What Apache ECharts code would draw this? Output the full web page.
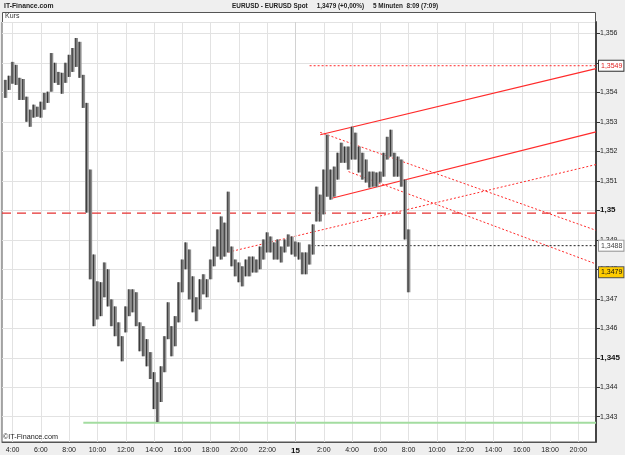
<!DOCTYPE html>
<html>
<head>
<meta charset="utf-8">
<script src="https://cdn.jsdelivr.net/npm/echarts@6/dist/echarts.min.js"></script>
<style>
  html, body { margin: 0; padding: 0; background: #efefef; }
  #chart { width: 625px; height: 455px; }
</style>
</head>
<body>
<div id="chart"></div>
<script>
// EURUSD spot, 15-minute ranges
const barStart = '14 03:30';

const highs = [
  1.35442, 1.35456, 1.35503, 1.35493, 1.35449, 1.35445, 1.35385, 1.35341, 1.35358, 1.35351,
  1.35368, 1.35398, 1.35402, 1.35533, 1.35500, 1.35469, 1.35466, 1.35500, 1.35527, 1.35550,
  1.35584, 1.35571, 1.35459, 1.35364, 1.35138, 1.34850, 1.34759, 1.34756, 1.34823, 1.34800,
  1.34698, 1.34674, 1.34620, 1.34573, 1.34674, 1.34732, 1.34732, 1.34722, 1.34620, 1.34607,
  1.34563, 1.34519, 1.34451, 1.34417, 1.34471, 1.34573, 1.34688, 1.34607, 1.34641, 1.34756,
  1.34833, 1.34891, 1.34867, 1.34776, 1.34705, 1.34766, 1.34783, 1.34766, 1.34833, 1.34877,
  1.34935, 1.34979, 1.34958, 1.35063, 1.34877, 1.34833, 1.34823, 1.34810, 1.34833, 1.34843,
  1.34843, 1.34833, 1.34877, 1.34901, 1.34925, 1.34911, 1.34891, 1.34901, 1.34877, 1.34901,
  1.34918, 1.34911, 1.34894, 1.34891, 1.34857, 1.34857, 1.34884, 1.34952, 1.35080, 1.35053,
  1.35138, 1.35256, 1.35138, 1.35148, 1.35195, 1.35229, 1.35216, 1.35216, 1.35283, 1.35263,
  1.35216, 1.35195, 1.35172, 1.35131, 1.35131, 1.35128, 1.35131, 1.35195, 1.35249, 1.35273,
  1.35195, 1.35182, 1.35172, 1.35104, 1.34935
];

const lows = [
  1.35381, 1.35408, 1.35429, 1.35425, 1.35374, 1.35374, 1.35300, 1.35283, 1.35314, 1.35317,
  1.35314, 1.35341, 1.35364, 1.35402, 1.35432, 1.35425, 1.35395, 1.35432, 1.35452, 1.35469,
  1.35486, 1.35449, 1.35347, 1.34992, 1.34766, 1.34607, 1.34630, 1.34641, 1.34705, 1.34674,
  1.34607, 1.34573, 1.34539, 1.34488, 1.34586, 1.34641, 1.34654, 1.34607, 1.34522, 1.34505,
  1.34471, 1.34428, 1.34326, 1.34282, 1.34350, 1.34451, 1.34563, 1.34505, 1.34539, 1.34620,
  1.34722, 1.34800, 1.34698, 1.34654, 1.34624, 1.34664, 1.34715, 1.34705, 1.34766, 1.34810,
  1.34843, 1.34833, 1.34843, 1.34857, 1.34810, 1.34776, 1.34756, 1.34742, 1.34776, 1.34776,
  1.34789, 1.34789, 1.34800, 1.34833, 1.34857, 1.34857, 1.34833, 1.34833, 1.34823, 1.34857,
  1.34877, 1.34850, 1.34843, 1.34833, 1.34783, 1.34783, 1.34816, 1.34850, 1.34962, 1.34962,
  1.34986, 1.35046, 1.35036, 1.35046, 1.35104, 1.35161, 1.35161, 1.35138, 1.35172, 1.35172,
  1.35128, 1.35104, 1.35094, 1.35077, 1.35080, 1.35080, 1.35094, 1.35114, 1.35172, 1.35182,
  1.35114, 1.35114, 1.35080, 1.34901, 1.34722
];

// drawn trend lines: [slot, price] end points
const upperChannel = [['15 01:45', 1.35256], ['15 21:15', 1.35480]];
const lowerChannel = [['15 02:30', 1.35040], ['15 21:15', 1.35266]];
const risingDotted = [['14 19:15', 1.34858], ['15 21:15', 1.35155]];
const fallingDottedA = [['15 01:45', 1.35264], ['15 21:15', 1.34932]];
const fallingDottedB = [['15 03:45', 1.35131], ['15 21:15', 1.34818]];

// horizontal levels
const resistance = [['15 01:00', 1.3549], ['15 21:15', 1.3549]];
const pivot = [['15 01:00', 1.3488], ['15 21:15', 1.3488]];
const midLevel = [['14 03:15', 1.3499], ['15 21:15', 1.3499]];
const support = [['14 09:00', 1.3428], ['15 21:15', 1.3428]];
const lastPrice = [['15 08:00', 1.3479], ['15 21:15', 1.3479]];
const dayBreak = '15 00:00';

// time slots of the axis, 15 minutes apart
const slots = [];
for (let m = 195; m <= 2715; m += 15) {
  const d = m < 1440 ? 14 : 15;
  const mm = m % 1440;
  slots.push(d + ' ' + String(Math.floor(mm / 60)).padStart(2, '0') + ':' + String(mm % 60).padStart(2, '0'));
}

const startIdx = slots.indexOf(barStart);
const bars = highs.map((h, i) => [startIdx + i, lows[i], h]);

const isLabelSlot = (idx, val) => {
  const hh = +val.slice(3, 5), mm = +val.slice(6, 8);
  return mm === 0 && hh % 2 === 0;
};

const chart = echarts.init(document.getElementById('chart'));
const red = '#ff2b2b';
const font = 'Liberation Sans';

const levelLine = (name, data, color, type, width) => ({
  name, type: 'line', data, symbol: 'none', silent: true,
  lineStyle: { color, type, width }, z: 4
});

const boxLabel = (text, color, bg, border) => ({
  show: true, formatter: text, color, backgroundColor: bg,
  borderColor: border, borderWidth: 1, padding: [2, 1, 1, 2],
  fontSize: 7, fontFamily: font, distance: 3
});

chart.setOption({
  animation: false,
  backgroundColor: '#efefef',
  textStyle: { fontFamily: font },
  grid: {
    left: 2, right: 29, top: 22, bottom: 12,
    show: true, backgroundColor: '#fff', borderColor: '#555', borderWidth: 1
  },
  graphic: [
    { type: 'rect', shape: { x: 2, y: 12, width: 594, height: 10 }, style: { fill: '#fff' }, z: 1 },
    { type: 'polyline', shape: { points: [[2.5, 22], [2.5, 12.5], [595.5, 12.5], [595.5, 22]] }, style: { stroke: '#555', lineWidth: 1, fill: null }, z: 1 },
    { type: 'text', x: 4, y: 2, scaleX: 0.85, style: { text: 'IT-Finance.com', fontSize: 8, fontWeight: 'bold', fontFamily: font, fill: '#222' } },
    { type: 'text', x: 232, y: 2, scaleX: 0.8, style: { text: 'EURUSD - EURUSD Spot     1,3479 (+0,00%)     5 Minuten  8:09 (7:09)', fontSize: 8, fontWeight: 'bold', fontFamily: font, fill: '#222' } },
    { type: 'text', x: 5, y: 13, style: { text: 'Kurs', fontSize: 7, fontFamily: font, fill: '#333' }, z: 2 },
    { type: 'text', x: 3, y: 433, scaleX: 0.9, style: { text: '©IT-Finance.com', fontSize: 8, fontFamily: font, fill: '#222' }, z: 10 }
  ],
  xAxis: {
    type: 'category',
    data: slots,
    boundaryGap: false,
    axisLine: { lineStyle: { color: '#555' } },
    axisTick: { show: false },
    axisLabel: {
      interval: isLabelSlot,
      margin: 5,
      fontSize: 7,
      color: '#222',
      formatter: v => {
        const hh = +v.slice(3, 5);
        return hh === 0 ? '{b|' + v.slice(0, 2) + '}' : hh + ':00';
      },
      rich: { b: { fontWeight: 'bold', fontSize: 8, color: '#111' } }
    },
    splitLine: { show: true, interval: isLabelSlot, lineStyle: { color: '#e2e2e2' } }
  },
  yAxis: {
    type: 'value',
    position: 'right',
    min: 1.342144,
    max: 1.356382,
    minInterval: 0.001,
    maxInterval: 0.001,
    splitNumber: 14,
    axisLine: { show: true, lineStyle: { color: '#444', width: 2 } },
    axisTick: { show: true, length: 4, lineStyle: { color: '#333' } },
    axisLabel: {
      showMinLabel: false,
      showMaxLabel: false,
      margin: 4,
      fontSize: 7,
      color: '#222',
      formatter: v => {
        const r = Math.round(v * 1000);
        if (r === 1350) return '{b|1,35}';
        if (r === 1345) return '{b|1,345}';
        return (r / 1000).toFixed(3).replace('.', ',');
      },
      rich: { b: { fontWeight: 'bold', fontSize: 8, color: '#111' } }
    },
    splitLine: { show: true, lineStyle: { color: '#e2e2e2' } }
  },
  series: [
    {
      name: 'EURUSD',
      type: 'custom',
      data: bars,
      z: 5,
      renderItem: (params, api) => {
        const top = api.coord([api.value(0), api.value(2)]);
        const bot = api.coord([api.value(0), api.value(1)]);
        const w = api.size([1, 0])[0];
        return {
          type: 'group',
          children: [
            { type: 'rect', shape: { x: top[0] - w / 2, y: top[1], width: w, height: Math.max(1, bot[1] - top[1]) }, style: { fill: '#8e8e8e' } },
            { type: 'line', shape: { x1: top[0] - 0.5, y1: top[1], x2: top[0] - 0.5, y2: bot[1] }, style: { stroke: '#333', lineWidth: 1 } }
          ]
        };
      }
    },
    Object.assign(levelLine('mid', midLevel, '#e53030', [9, 6], 1.2), {
      markLine: {
        symbol: 'none', silent: true, label: { show: false },
        lineStyle: { color: '#d2d2d2', width: 1, type: 'solid' },
        data: [{ xAxis: dayBreak }]
      }
    }),
    levelLine('support', support, '#a3dca0', 'solid', 2),
    Object.assign(levelLine('resistance', resistance, red, [2, 2], 1), {
      endLabel: boxLabel('1,3549', '#e02020', '#fff', '#333')
    }),
    Object.assign(levelLine('pivot', pivot, '#222', [2, 2], 1), {
      endLabel: boxLabel('1,3488', '#444', '#fff', '#999')
    }),
    Object.assign(levelLine('last', lastPrice, 'rgba(0,0,0,0)', 'solid', 0), {
      endLabel: boxLabel('1,3479', '#111', '#ffcc00', '#555')
    }),
    levelLine('upper', upperChannel, red, 'solid', 1.2),
    levelLine('lower', lowerChannel, red, 'solid', 1.2),
    levelLine('rising', risingDotted, red, [2, 2], 1),
    levelLine('fallingA', fallingDottedA, red, [2, 2], 1),
    levelLine('fallingB', fallingDottedB, red, [2, 2], 1)
  ]
});
</script>
</body>
</html>
